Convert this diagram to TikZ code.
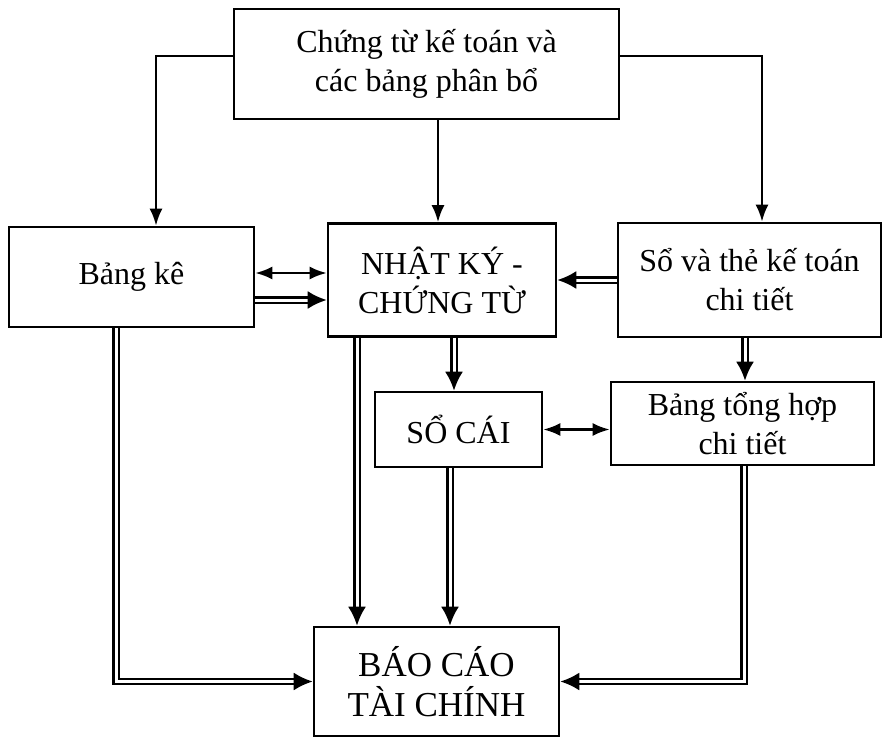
\documentclass[tikz,border=0pt]{standalone}
\usepackage{fontspec}
\setmainfont{Liberation Serif}
\usetikzlibrary{calc}
\usetikzlibrary{arrows.meta}
\usetikzlibrary{positioning}
\tikzset{>=latex}
\tikzstyle{box} = [draw, line width=2.6pt, inner sep=0, align=center, font=\fontsize{32}{39}\selectfont]
\tikzstyle{one} = [line width=2.4pt, -{Latex[length=17pt, width=13pt]}]
\tikzstyle{both} = [line width=2.4pt, {Latex[length=17pt, width=13pt]}-{Latex[length=17pt, width=13pt]}]
\tikzstyle{two} = [double, double distance=3pt, line width=2.4pt, -{Latex[length=19pt, width=18pt]}]

\begin{document}
\begin{tikzpicture}[x=1pt, y=-1pt]
\useasboundingbox (0,0) rectangle (886,738);
\node [box, minimum width=385pt, minimum height=110pt] (CT) at (426.5, 64) {Chứng từ kế toán và\\các bảng phân bổ};
\node [box, minimum width=245pt, minimum height=100pt] (BK) at (131.5, 277) {Bảng kê};
\node [box, minimum width=228pt, minimum height=113pt] (NK) at (442, 280) {NHẬT KÝ -\\CHỨNG TỪ};
\node [box, minimum width=263pt, minimum height=114pt] (SCT) at (749.5, 280) {Sổ và thẻ kế toán\\chi tiết};
\node [box, minimum width=167pt, minimum height=75pt] (SC) at (458.5, 429.5) {SỔ CÁI};
\node [box, minimum width=263pt, minimum height=83pt] (TH) at (742.5, 423.5) {Bảng tổng hợp\\chi tiết};
\node [box, minimum width=245pt, minimum height=109pt, font=\fontsize{35}{40}\selectfont] (BC) at (436.5, 681.5) {BÁO CÁO\\TÀI CHÍNH};
% from the top box
\draw [one] ([yshift=8pt]CT.west) -| ([xshift=24.5pt]BK.north);
\draw [one] ([xshift=11.5pt]CT.south) -- ([xshift=11.5pt]CT.south |- NK.north);
\draw [one] ([yshift=8pt]CT.east) -| ([xshift=12.5pt]SCT.north);
% middle row
\draw [both] ([yshift=4pt]BK.east) -- ([yshift=4pt]BK.east -| NK.west);
\draw [two] ([yshift=-23pt]BK.east) -- ([yshift=-23pt]BK.east -| NK.west);
\draw [two] (SCT.west) -- (SCT.west -| NK.east);
\draw [two] ([xshift=12pt]NK.south) -- ([xshift=12pt]NK.south |- SC.north);
\draw [two] ([xshift=-4.5pt]SCT.south) -- ([xshift=-4.5pt]SCT.south |- TH.north);
\draw [both] (SC.east) -- (SC.east -| TH.west);
% to the report
\draw [two] ([xshift=-15.5pt]BK.south) |- (BC.west);
\draw [two] ([xshift=-85pt]NK.south) -- ([xshift=-85pt]NK.south |- BC.north);
\draw [two] ([xshift=-8.5pt]SC.south) -- ([xshift=-8.5pt]SC.south |- BC.north);
\draw [two] ([xshift=1.5pt]TH.south) |- (BC.east);
\end{tikzpicture}
\end{document}
